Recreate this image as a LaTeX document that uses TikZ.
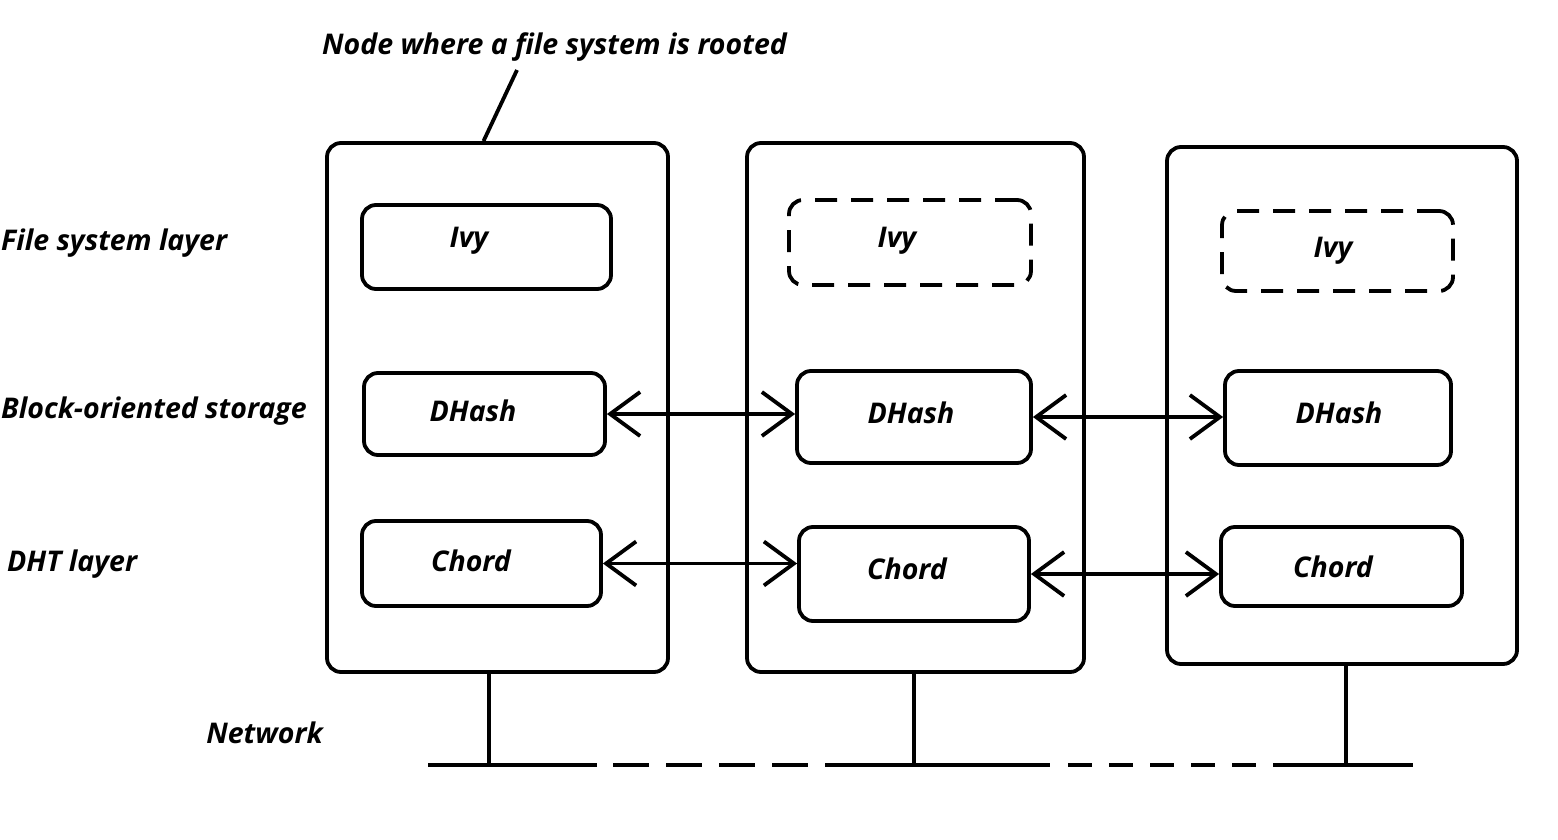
\documentclass[tikz,border=0pt]{standalone}
\usepackage{fontspec}
\setmainfont{Open Sans}
\usetikzlibrary{positioning,arrows.meta}

\tikzset{
	host/.style={draw, line width=3.8pt, rounded corners=14pt, inner sep=0pt},
	layer/.style={draw, line width=3.8pt, rounded corners=14pt, inner sep=0pt},
	ghost/.style={layer, dash pattern=on 22pt off 14pt},
	lbl/.style={font=\fontsize{28.5}{32}\selectfont\bfseries\itshape, inner sep=1pt},
	link/.style={{Straight Barb[length=30pt, width=44pt]}-{Straight Barb[length=30pt, width=44pt]}, line width=3.8pt},
	wire/.style={line width=3.8pt}
}

\begin{document}
\begin{tikzpicture}[x=1pt, y=-1pt]
	\useasboundingbox (0, 0) rectangle (1558, 840);
	% hosts
	\node[host, minimum width=341pt, minimum height=529pt] (host1) at (497.5, 407.5) {};
	\node[host, minimum width=337pt, minimum height=529pt] (host2) at (915.5, 407.5) {};
	\node[host, minimum width=350pt, minimum height=517pt] (host3) at (1342, 405.5) {};
	% file system layer
	\node[layer, minimum width=249pt, minimum height=84pt] (ivy1) at (486.5, 247) {};
	\node[ghost, minimum width=242pt, minimum height=85pt] (ivy2) at (910, 242.5) {};
	\node[ghost, minimum width=231pt, minimum height=80pt] (ivy3) at (1337.5, 251) {};
	\node[lbl] (ivy1t) at (469, 241) {Ivy};
	\node[lbl] (ivy2t) at (897, 241) {Ivy};
	\node[lbl] (ivy3t) at (1333, 251) {Ivy};
	% block storage
	\node[layer, minimum width=241pt, minimum height=82pt] (dhash1) at (484.5, 414) {};
	\node[layer, minimum width=234pt, minimum height=92pt] (dhash2) at (914, 417) {};
	\node[layer, minimum width=226pt, minimum height=94pt] (dhash3) at (1338, 418) {};
	\node[lbl] (dhash1t) at (473, 411) {DHash};
	\node[lbl] (dhash2t) at (911, 413) {DHash};
	\node[lbl] (dhash3t) at (1339, 413) {DHash};
	% dht layer
	\node[layer, minimum width=239pt, minimum height=85pt] (chord1) at (481.5, 563.5) {};
	\node[layer, minimum width=230pt, minimum height=94pt] (chord2) at (914, 574) {};
	\node[layer, minimum width=241pt, minimum height=79pt] (chord3) at (1341.5, 566.5) {};
	\node[lbl] (chord1t) at (471, 561) {Chord};
	\node[lbl] (chord2t) at (907, 569) {Chord};
	\node[lbl] (chord3t) at (1333, 567) {Chord};
	% links
	\draw[link] (dhash1.east) -- (dhash1.east -| dhash2.west);
	\draw[link] (dhash2.east) -- (dhash2.east -| dhash3.west);
	\draw[link] (chord1.east) -- (chord1.east -| chord2.west);
	\draw[link] (chord2.east) -- (chord2.east -| chord3.west);
	% side labels
	\node[lbl, anchor=west] (fsl) at (0, 243) {File system layer};
	\node[lbl, anchor=west] (bos) at (0, 411) {Block-oriented storage};
	\node[lbl, anchor=west] (dht) at (6, 564) {DHT layer};
	\node[lbl] (net) at (264.5, 733) {Network};
	\node[lbl] (root) at (554.5, 47) {Node where a file system is rooted};
	\coordinate (rootfoot) at (517, 70);
	\draw[wire] (rootfoot) -- ([xshift=-14pt]host1.north);
	% network
	\coordinate (N0) at (428, 765);
	\coordinate (N1) at (597, 765);
	\coordinate (N2) at (826, 765);
	\coordinate (N3) at (1050, 765);
	\coordinate (N4) at (1276, 765);
	\coordinate (N5) at (1413, 765);
	\draw[wire] (N0) -- (N1);
	\draw[wire, dash pattern=on 36pt off 17pt] ([xshift=16pt]N1) -- (N2);
	\draw[wire] (N2) -- (N3);
	\draw[wire, dash pattern=on 24pt off 17pt] ([xshift=18pt]N3) -- (N4);
	\draw[wire] (N4) -- (N5);
	\draw[wire] ([xshift=-8.5pt]host1.south) -- ([xshift=-8.5pt]host1.south |- N0);
	\draw[wire] ([xshift=-1.5pt]host2.south) -- ([xshift=-1.5pt]host2.south |- N0);
	\draw[wire] ([xshift=4pt]host3.south) -- ([xshift=4pt]host3.south |- N0);
\end{tikzpicture}
\end{document}
